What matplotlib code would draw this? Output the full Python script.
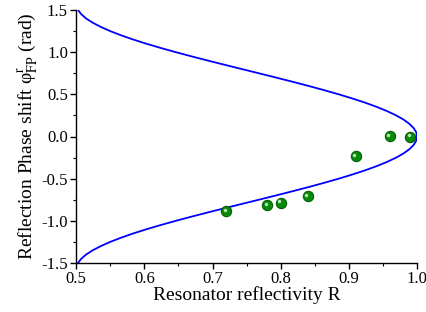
import matplotlib
matplotlib.use("Agg")
import matplotlib.pyplot as plt
import matplotlib.transforms as mtransforms
from matplotlib.ticker import MultipleLocator, FormatStrFormatter

plt.rcParams['font.family'] = ['Liberation Serif', 'DejaVu Serif']
plt.rcParams['mathtext.fontset'] = 'stix'

# theory curve, upper branch (lower branch is its mirror)
curve_phi = [1.571, 1.5, 1.45, 1.4, 1.35, 1.3, 1.25, 1.2, 1.15, 1.1, 1.05,
             1.0, 0.95, 0.9, 0.85, 0.8, 0.75, 0.7, 0.65, 0.6, 0.55, 0.5,
             0.45, 0.4, 0.35, 0.3, 0.25, 0.2, 0.15, 0.1, 0.05, 0.0]
curve_R = [0.5, 0.5025, 0.5073, 0.5144, 0.5240, 0.5358, 0.5497, 0.5657,
           0.5834, 0.6029, 0.6238, 0.6460, 0.6692, 0.6932, 0.7178, 0.7427,
           0.7677, 0.7925, 0.8169, 0.8406, 0.8634, 0.8851, 0.9054, 0.9242,
           0.9412, 0.9563, 0.9694, 0.9803, 0.9888, 0.9950, 0.9988, 1.0]

# measured points
meas_R = [0.72, 0.78, 0.80, 0.84, 0.91, 0.96, 0.99]
meas_phi = [-0.884, -0.817, -0.785, -0.706, -0.233, 0.004, -0.004]

full_R = curve_R + curve_R[::-1][1:]
full_phi = curve_phi + [-p for p in curve_phi[::-1][1:]]

fig = plt.figure(figsize=(4.26, 3.12), dpi=100)
ax = fig.add_axes([0.179, 0.157, 0.800, 0.811])

ax.plot(full_R, full_phi, color='#0000ff', lw=1.3, zorder=2,
        solid_joinstyle='round')

# green "spheres": dark ball + small highlight shifted up-left
ax.scatter(meas_R, meas_phi, s=55, color='#0a8a0a', edgecolor='#006000',
           linewidth=0.8, zorder=3)
shift = mtransforms.ScaledTranslation(-1.5 / 100, 1.5 / 100, fig.dpi_scale_trans)
ax.scatter(meas_R, meas_phi, s=6, color='#b8e8b8', linewidth=0, zorder=4,
           transform=ax.transData + shift)

ax.set_xlim(0.5, 1.0)
ax.set_ylim(-1.5, 1.5)
ax.xaxis.set_major_locator(MultipleLocator(0.1))
ax.xaxis.set_minor_locator(MultipleLocator(0.05))
ax.yaxis.set_major_locator(MultipleLocator(0.5))
ax.yaxis.set_minor_locator(MultipleLocator(0.25))
ax.xaxis.set_major_formatter(FormatStrFormatter('%.1f'))
ax.yaxis.set_major_formatter(FormatStrFormatter('%.1f'))

for s in ['top', 'right']:
    ax.spines[s].set_visible(False)
for s in ['left', 'bottom']:
    ax.spines[s].set_linewidth(1.0)

ax.tick_params(which='major', direction='out', length=4, width=1.0,
               labelsize=12, pad=2)
ax.tick_params(which='minor', direction='out', length=2.5, width=0.8)

ax.set_xlabel('Resonator reflectivity R', fontsize=14, labelpad=-1)
ax.set_ylabel(r'Reflection Phase shift φ$^{\mathrm{r}}_{\mathrm{FP}}$ (rad)',
              fontsize=14, labelpad=1)

fig.savefig('out.png', dpi=100)
